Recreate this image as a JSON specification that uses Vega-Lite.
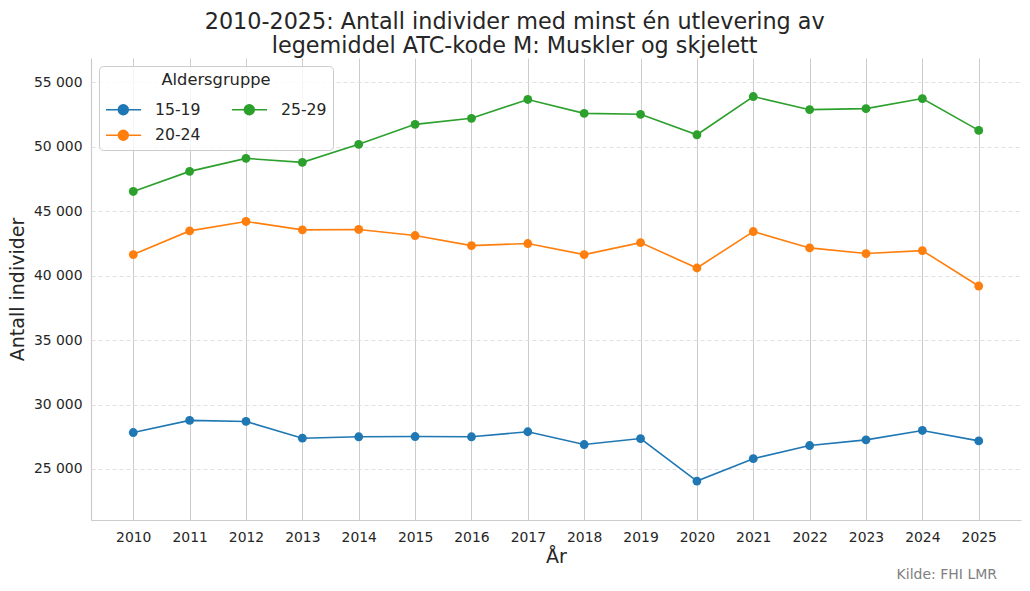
{
  "$schema": "https://vega.github.io/schema/vega-lite/v6.json",
  "background": "white",
  "padding": {"left": 8, "top": 10, "right": 9, "bottom": 5},
  "title": {
    "text": ["2010-2025: Antall individer med minst én utlevering av", "legemiddel ATC-kode M: Muskler og skjelett"],
    "font": "DejaVu Sans",
    "fontSize": 22.3,
    "fontWeight": "normal",
    "color": "#262626",
    "lineHeight": 24,
    "anchor": "middle",
    "offset": 1
  },
  "config": {
    "font": "DejaVu Sans",
    "view": {"stroke": null},
    "axis": {
      "labelFont": "DejaVu Sans",
      "labelFontSize": 13.9,
      "labelColor": "#262626",
      "titleFont": "DejaVu Sans",
      "titleFontSize": 19,
      "titleFontWeight": "normal",
      "titleColor": "#262626",
      "domainColor": "#cccccc",
      "domainWidth": 1.2,
      "ticks": false,
      "gridColor": "#cccccc"
    }
  },
  "data": {
    "values": [
      {"year": "2010", "group": "15-19", "value": 27830},
      {"year": "2011", "group": "15-19", "value": 28770},
      {"year": "2012", "group": "15-19", "value": 28690},
      {"year": "2013", "group": "15-19", "value": 27390},
      {"year": "2014", "group": "15-19", "value": 27500},
      {"year": "2015", "group": "15-19", "value": 27520},
      {"year": "2016", "group": "15-19", "value": 27500},
      {"year": "2017", "group": "15-19", "value": 27890},
      {"year": "2018", "group": "15-19", "value": 26900},
      {"year": "2019", "group": "15-19", "value": 27360},
      {"year": "2020", "group": "15-19", "value": 24060},
      {"year": "2021", "group": "15-19", "value": 25800},
      {"year": "2022", "group": "15-19", "value": 26820},
      {"year": "2023", "group": "15-19", "value": 27260},
      {"year": "2024", "group": "15-19", "value": 27990},
      {"year": "2025", "group": "15-19", "value": 27180},
      {"year": "2010", "group": "20-24", "value": 41640},
      {"year": "2011", "group": "20-24", "value": 43480},
      {"year": "2012", "group": "20-24", "value": 44210},
      {"year": "2013", "group": "20-24", "value": 43560},
      {"year": "2014", "group": "20-24", "value": 43590},
      {"year": "2015", "group": "20-24", "value": 43120},
      {"year": "2016", "group": "20-24", "value": 42340},
      {"year": "2017", "group": "20-24", "value": 42500},
      {"year": "2018", "group": "20-24", "value": 41640},
      {"year": "2019", "group": "20-24", "value": 42570},
      {"year": "2020", "group": "20-24", "value": 40600},
      {"year": "2021", "group": "20-24", "value": 43430},
      {"year": "2022", "group": "20-24", "value": 42160},
      {"year": "2023", "group": "20-24", "value": 41720},
      {"year": "2024", "group": "20-24", "value": 41950},
      {"year": "2025", "group": "20-24", "value": 39200},
      {"year": "2010", "group": "25-29", "value": 46540},
      {"year": "2011", "group": "25-29", "value": 48100},
      {"year": "2012", "group": "25-29", "value": 49110},
      {"year": "2013", "group": "25-29", "value": 48800},
      {"year": "2014", "group": "25-29", "value": 50200},
      {"year": "2015", "group": "25-29", "value": 51750},
      {"year": "2016", "group": "25-29", "value": 52220},
      {"year": "2017", "group": "25-29", "value": 53680},
      {"year": "2018", "group": "25-29", "value": 52600},
      {"year": "2019", "group": "25-29", "value": 52530},
      {"year": "2020", "group": "25-29", "value": 50940},
      {"year": "2021", "group": "25-29", "value": 53910},
      {"year": "2022", "group": "25-29", "value": 52890},
      {"year": "2023", "group": "25-29", "value": 52970},
      {"year": "2024", "group": "25-29", "value": 53750},
      {"year": "2025", "group": "25-29", "value": 51280}
    ]
  },
  "vconcat": [
    {
      "width": 930,
      "height": 462,
      "title": {
        "text": "Kilde: FHI LMR",
        "orient": "bottom",
        "anchor": "end",
        "font": "DejaVu Sans",
        "fontSize": 14,
        "fontWeight": "normal",
        "color": "#808080",
        "dx": -24,
        "offset": 1
      },
      "encoding": {
        "x": {
          "field": "year",
          "type": "ordinal",
          "title": "År",
          "scale": {"type": "point", "padding": 0.75},
          "axis": {
            "labelAngle": 0,
            "labelPadding": 10,
            "titlePadding": 4,
            "grid": true,
            "gridWidth": 1
          }
        },
        "y": {
          "field": "value",
          "type": "quantitative",
          "title": "Antall individer",
          "scale": {"domain": [21040, 56900], "nice": false, "zero": false},
          "axis": {
            "values": [25000, 30000, 35000, 40000, 45000, 50000, 55000],
            "labelExpr": "replace(format(datum.value, ',d'), ',', ' ')",
            "labelPadding": 9,
            "titlePadding": 6,
            "grid": true,
            "gridDash": [4, 3],
            "gridColor": "#dddddd",
            "gridWidth": 0.9
          }
        },
        "color": {
          "field": "group",
          "type": "nominal",
          "title": "Aldersgruppe",
          "scale": {
            "domain": ["15-19", "20-24", "25-29"],
            "range": ["#1f77b4", "#ff7f0e", "#2ca02c"]
          },
          "legend": {
            "orient": "top-left",
            "offset": 8,
            "columns": 2,
            "columnPadding": 27,
            "rowPadding": 3,
            "symbolType": "M-1,0L1.7,0M-0.05,0A0.38,0.38 0 1,0 0.71,0A0.38,0.38 0 1,0 -0.05,0Z",
            "symbolSize": 676,
            "symbolStrokeWidth": 1.6,
            "labelFont": "DejaVu Sans",
            "labelFontSize": 15.7,
            "labelColor": "#262626",
            "labelOffset": 22,
            "titleFont": "DejaVu Sans",
            "titleFontSize": 16.3,
            "titleFontWeight": "normal",
            "titleColor": "#262626",
            "titleAnchor": "middle",
            "titlePadding": 7,
            "fillColor": "rgba(255,255,255,0.8)",
            "strokeColor": "#cccccc",
            "cornerRadius": 4,
            "padding": 6
          }
        }
      },
      "layer": [
        {"mark": {"type": "line", "strokeWidth": 1.6}},
        {"mark": {"type": "point", "filled": true, "opacity": 1, "size": 78}}
      ]
    }
  ]
}
